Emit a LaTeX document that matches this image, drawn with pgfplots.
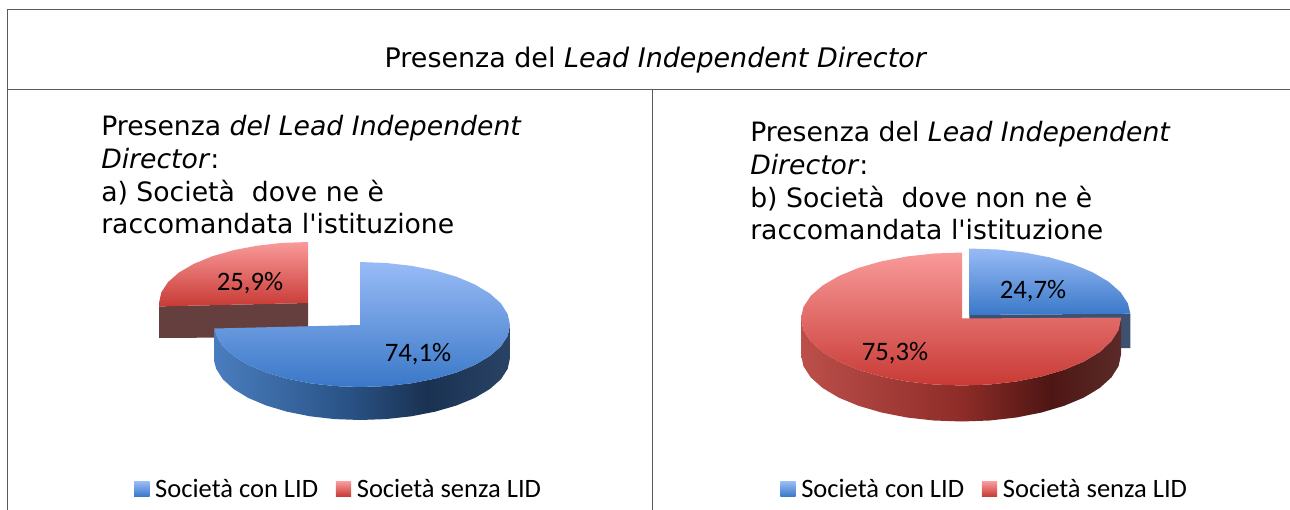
\documentclass[border=0pt]{standalone}
\usepackage{fontspec}
\setmainfont{DejaVu Sans}[Ligatures=TeXOff]
\newfontfamily\calibri{Carlito}
\usepackage{pgfplots}
\pgfplotsset{compat=1.18}
\definecolor{frameline}{HTML}{5A5A5A}
\definecolor{blueTop}{HTML}{98BBF6}
\definecolor{blueBot}{HTML}{3A78C8}
\definecolor{redTop}{HTML}{F99A9A}
\definecolor{redBot}{HTML}{C83A35}
\definecolor{brownWall}{HTML}{653E3E}
\definecolor{slateWall}{HTML}{3E5070}
\definecolor{bw1}{HTML}{4A7DBE}
\definecolor{bw2}{HTML}{2A5488}
\definecolor{bw3}{HTML}{1A3252}
\definecolor{bw4}{HTML}{2A4264}
\definecolor{rw1}{HTML}{BC4F4A}
\definecolor{rw2}{HTML}{8E2C28}
\definecolor{rw3}{HTML}{4E1614}
\definecolor{rw4}{HTML}{5A2B28}
\pgfdeclarehorizontalshading{bluewall}{100bp}{
  color(0bp)=(bw1); color(25bp)=(bw1); color(47bp)=(bw2);
  color(61bp)=(bw3); color(75bp)=(bw4); color(100bp)=(bw4)}
\pgfdeclarehorizontalshading{redwall}{100bp}{
  color(0bp)=(rw1); color(25bp)=(rw1); color(50bp)=(rw2);
  color(64bp)=(rw3); color(75bp)=(rw4); color(100bp)=(rw4)}
\pgfplotsset{
  pxaxis/.style={
    at={(0,0)},anchor=south west,scale only axis,
    width=967.5pt,height=382.5pt,
    xmin=0,xmax=1290,ymin=0,ymax=510,y dir=reverse,
    hide axis,clip=false,
    legend columns=2,
    legend cell align=left,
    legend style={draw=none,fill=none,inner sep=0pt,
      font=\calibri\fontsize{19.9}{22}\selectfont,
      /tikz/every odd column/.append style={column sep=2.25pt},
      /tikz/every even column/.append style={column sep=11.25pt}},
  },
  swatch/.style n args={2}{
    legend image code/.code={
      \path[draw=none,top color=#1,bottom color=#2] (0pt,-5.6pt) rectangle (11.5pt,5.6pt);}},
  face/.style n args={2}{draw=none,forget plot,top color=#1,bottom color=#2},
  wall/.style={draw=none,forget plot,shading=#1},
}
\newcommand{\ttl}{\fontsize{20.2}{24}\selectfont}
\newcommand{\sub}{\fontsize{20}{24}\selectfont}
\newcommand{\lab}{\calibri\fontsize{20}{22}\selectfont}
\begin{document}
\begin{tikzpicture}
\path[use as bounding box] (0,0) rectangle (967.5pt,382.5pt);
\begin{axis}[pxaxis,legend style={at={(axis cs:339,489)},anchor=center}]
% cornice
\addplot[frameline,line width=0.75pt,forget plot] coordinates {(1290,10) (7,10) (7,510)};
\addplot[frameline,line width=0.75pt,forget plot] coordinates {(7,90) (1290,90)};
\addplot[frameline,line width=0.75pt,forget plot] coordinates {(652,90) (652,510)};
% spicchio rosso staccato
\addplot[draw=none,fill=brownWall,forget plot] coordinates {
  (159.2,306.4) (308,303) (308,337) (159.2,338)} --cycle;
\addplot[face={redTop}{redBot}] coordinates {
  (308,303) (308,242) (282.1,242.9) (257,245.7) (233.5,250.2) (212.2,256.3)
  (193.9,263.8) (179,272.5) (168,282.1) (161.3,292.4) (159,303) (159.2,306.4)} --cycle;
% spicchio blu
\addplot[wall=bluewall] coordinates {
  (510,325) (507.7,335.8) (501,346.2) (489.9,356) (474.9,364.9) (456.4,372.5)
  (435,378.7) (411.3,383.3) (386,386.1) (360,387) (334.7,386.1) (310.1,383.3)
  (287,378.7) (266.2,372.5) (248.2,364.9) (233.6,356) (222.8,346.2) (216.2,335.8)
  (214.2,328.5) (214.2,361.5) (216.2,368.8) (222.8,379.2) (233.6,389) (248.2,397.9)
  (266.2,405.5) (287,411.7) (310.1,416.3) (334.7,419.1) (360,420) (386,419.1)
  (411.3,416.3) (435,411.7) (456.4,405.5) (474.9,397.9) (489.9,389) (501,379.2)
  (507.7,368.8) (510,358)} --cycle;
\addplot[face={blueTop}{blueBot}] coordinates {
  (360,325) (360,262) (386,263) (411.3,265.8) (435,270.4) (456.4,276.7)
  (474.9,284.5) (489.9,293.5) (501,303.5) (507.7,314.1) (510,325) (507.7,335.8)
  (501,346.2) (489.9,356) (474.9,364.9) (456.4,372.5) (435,378.7) (411.3,383.3)
  (386,386.1) (360,387) (334.7,386.1) (310.1,383.3) (287,378.7) (266.2,372.5)
  (248.2,364.9) (233.6,356) (222.8,346.2) (216.2,335.8) (214.2,328.5)} --cycle;
\node[font=\lab] at (axis cs:250,283) {25,9\%};
\node[font=\lab] at (axis cs:418,354) {74,1\%};
\node[font=\ttl,anchor=base] at (axis cs:656,68) {Presenza del \textit{Lead Independent Director}};
\node[font=\sub,anchor=base west,inner sep=0pt] at (axis cs:101,136) {Presenza \textit{del Lead Independent}};
\node[font=\sub,anchor=base west,inner sep=0pt] at (axis cs:101,169) {\textit{Director}:};
\node[font=\sub,anchor=base west,inner sep=0pt] at (axis cs:101,201) {a) Società\ \ dove ne è};
\node[font=\sub,anchor=base west,inner sep=0pt] at (axis cs:101,233) {raccomandata l'istituzione};
\addlegendimage{swatch={blueTop}{blueBot}}
\addlegendentry{Società con LID}
\addlegendimage{swatch={redTop}{redBot}}
\addlegendentry{Società senza LID}
\end{axis}
\begin{axis}[pxaxis,legend style={at={(axis cs:985,489)},anchor=center}]
% spicchio blu
\addplot[draw=none,fill=slateWall,forget plot] coordinates {
  (969.3,315) (1130.3,313.7) (1130.3,348) (969.3,348)} --cycle;
\addplot[face={blueTop}{blueBot}] coordinates {
  (969.3,315) (969.3,248.5) (997.3,249.5) (1024.4,252.5) (1049.8,257.4) (1072.8,264.1)
  (1092.6,272.3) (1108.7,281.8) (1120.6,292.3) (1127.9,303.5) (1130.3,313.7)} --cycle;
% spicchio rosso
\addplot[wall=redwall] coordinates {
  (801,318.5) (803.4,330.1) (810.7,341.4) (822.6,352) (838.7,361.6) (858.5,369.8)
  (881.5,376.5) (906.9,381.5) (934,384.5) (962,385.5) (989.6,384.5) (1016.4,381.5)
  (1041.5,376.5) (1064.2,369.8) (1083.8,361.6) (1099.7,352) (1111.4,341.4) (1118.6,330.1)
  (1121,318.5) (1121,354.5) (1118.6,366.1) (1111.4,377.4) (1099.7,388) (1083.8,397.6)
  (1064.2,405.8) (1041.5,412.5) (1016.4,417.5) (989.6,420.5) (962,421.5) (934,420.5)
  (906.9,417.5) (881.5,412.5) (858.5,405.8) (838.7,397.6) (822.6,388) (810.7,377.4)
  (803.4,366.1) (801,354.5)} --cycle;
\addplot[face={redTop}{redBot}] coordinates {
  (962,318.5) (962,252.5) (934,253.5) (906.9,256.5) (881.5,261.3) (858.5,267.9)
  (838.7,276.1) (822.6,285.5) (810.7,295.9) (803.4,307) (801,318.5) (803.4,330.1)
  (810.7,341.4) (822.6,352) (838.7,361.6) (858.5,369.8) (881.5,376.5) (906.9,381.5)
  (934,384.5) (962,385.5) (989.6,384.5) (1016.4,381.5) (1041.5,376.5) (1064.2,369.8)
  (1083.8,361.6) (1099.7,352) (1111.4,341.4) (1118.6,330.1) (1121,318.5) (1121,317.5)} --cycle;
\node[font=\lab] at (axis cs:1033,291) {24,7\%};
\node[font=\lab] at (axis cs:895,353) {75,3\%};
\node[font=\sub,anchor=base west,inner sep=0pt] at (axis cs:750,142) {Presenza del \textit{Lead Independent}};
\node[font=\sub,anchor=base west,inner sep=0pt] at (axis cs:750,175) {\textit{Director}:};
\node[font=\sub,anchor=base west,inner sep=0pt] at (axis cs:750,207) {b) Società\ \ dove non ne è};
\node[font=\sub,anchor=base west,inner sep=0pt] at (axis cs:750,239) {raccomandata l'istituzione};
\addlegendimage{swatch={blueTop}{blueBot}}
\addlegendentry{Società con LID}
\addlegendimage{swatch={redTop}{redBot}}
\addlegendentry{Società senza LID}
\end{axis}
\end{tikzpicture}
\end{document}
